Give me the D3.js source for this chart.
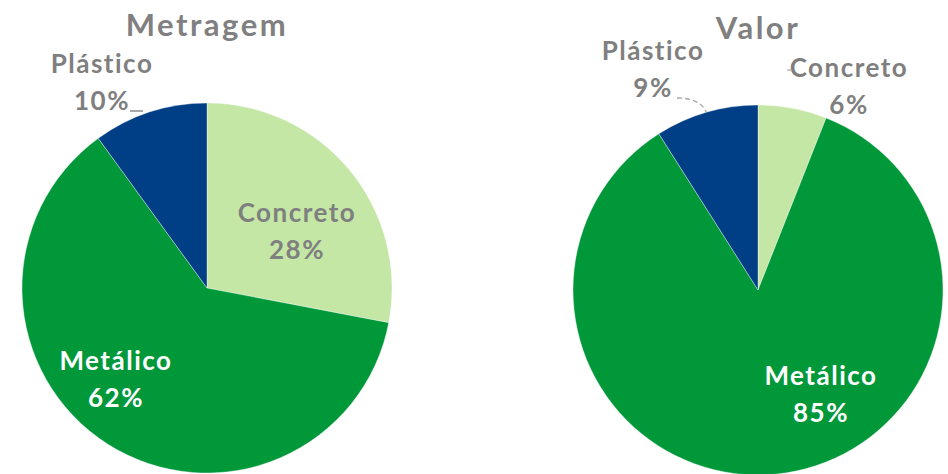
<!DOCTYPE html>
<html>
<head>
<meta charset="utf-8">
<script src="https://cdn.jsdelivr.net/npm/d3@7"></script>
<style>
  html, body { margin: 0; padding: 0; background: #fff; }
  svg { display: block; }
  text { font-family: Lato, "Open Sans", sans-serif; }
</style>
</head>
<body>
<svg id="chart" width="948" height="474"></svg>
<script>
// ---- data ----
const categories = ["Concreto", "Metálico", "Plástico"];
const metragemValues = [28, 62, 10];
const valorValues = [6, 85, 9];
const chartTitles = ["Metragem", "Valor"];

// ---- style ----
const colors = d3.scaleOrdinal().domain(categories).range(["#C4E7A6", "#01983A", "#003F86"]);
const labelColors = { "Concreto": "#7F7F7F", "Metálico": "#FFFFFF", "Plástico": "#7F7F7F" };
const R = 185;

// label placement (offset of label block from pie center, px) — layout only
const layouts = [
  { cx: 207, cy: 288, titleY: 36,
    labels: { "Concreto": [90, -66], "Metálico": [-91, 82], "Plástico": [-105, -215] },
    leaders: { "Plástico": "h" } },
  { cx: 758, cy: 290, titleY: 39,
    labels: { "Concreto": [91, -213], "Metálico": [63, 95], "Plástico": [-105, -230] },
    leaders: { "Plástico": "curve", "Concreto": "stub" } }
];

const svg = d3.select("#chart");
const pie = d3.pie().sort(null).value(d => d.value);
const arc = d3.arc().innerRadius(0).outerRadius(R);

[metragemValues, valorValues].forEach((vals, i) => {
  const L = layouts[i];
  const data = categories.map((c, k) => ({ cat: c, value: vals[k] }));
  const arcs = pie(data);
  const total = d3.sum(vals);
  const g = svg.append("g").attr("transform", `translate(${L.cx},${L.cy})`);

  g.selectAll("path.slice").data(arcs).join("path")
    .attr("class", "slice")
    .attr("d", arc)
    .attr("fill", d => colors(d.data.cat))
    .attr("stroke", "#ffffff")
    .attr("stroke-width", 0.6)
    .attr("stroke-opacity", 0.6);

  // title
  svg.append("text")
    .attr("x", L.cx).attr("y", L.titleY)
    .attr("text-anchor", "middle")
    .attr("font-size", 31).attr("font-weight", 700)
    .attr("letter-spacing", 2.5)
    .attr("fill", "#808080")
    .text(chartTitles[i]);

  // labels
  arcs.forEach(a => {
    const c = a.data.cat;
    const off = L.labels[c];
    const pct = Math.round(a.data.value / total * 100) + "%";
    const t = g.append("text")
      .attr("text-anchor", "middle")
      .attr("font-size", 26).attr("font-weight", 700)
      .attr("letter-spacing", 1.5)
      .attr("fill", labelColors[c]);
    t.append("tspan").attr("x", off[0]).attr("y", off[1]).text(c);
    t.append("tspan").attr("x", off[0]).attr("y", off[1] + 37).text(pct);

    const mid = (a.startAngle + a.endAngle) / 2;
    const edge = [Math.sin(mid) * R, -Math.cos(mid) * R];
    const lead = L.leaders[c];
    if (lead === "h") {
      g.append("line")
        .attr("x1", off[0] + 28).attr("x2", off[0] + 41)
        .attr("y1", off[1] + 38).attr("y2", off[1] + 38)
        .attr("stroke", "#8C8C8C").attr("stroke-width", 1.5);
    } else if (lead === "curve") {
      const sx = off[0] + 24, sy = off[1] + 38;
      g.append("path")
        .attr("d", `M${sx},${sy} Q${edge[0] - 6},${sy} ${edge[0]},${edge[1]}`)
        .attr("fill", "none")
        .attr("stroke", "#A6A6A6").attr("stroke-width", 1.3)
        .attr("stroke-dasharray", "5,3");
    } else if (lead === "stub") {
      g.append("line")
        .attr("x1", off[0] - 62).attr("x2", off[0] - 57)
        .attr("y1", off[1] - 7).attr("y2", off[1] - 7)
        .attr("stroke", "#A6A6A6").attr("stroke-width", 1.2);
    }
  });
});
</script>
</body>
</html>
